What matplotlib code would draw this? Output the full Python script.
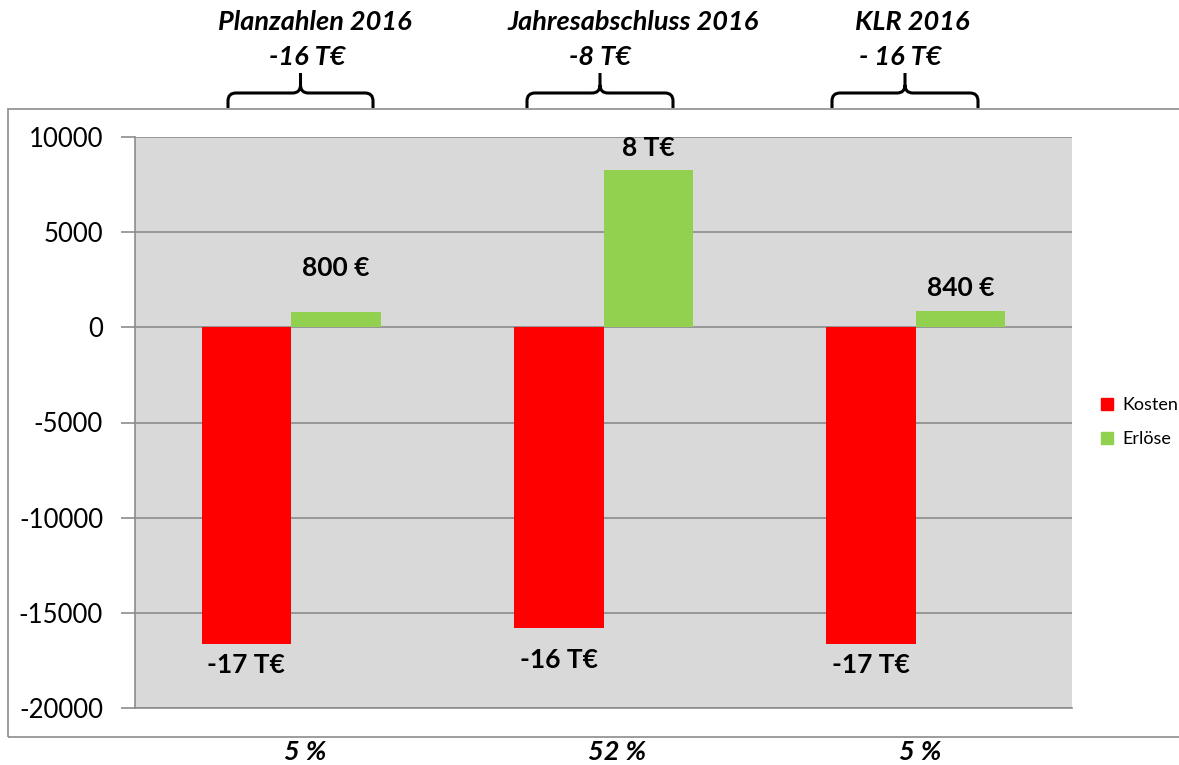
import matplotlib
matplotlib.use('Agg')
import numpy as np
from matplotlib import pyplot as plt
from matplotlib.patches import Rectangle, Patch, PathPatch
from matplotlib.path import Path

plt.rcParams['font.family'] = ['Lato', 'DejaVu Sans']

categories = ['Planzahlen 2016', 'Jahresabschluss 2016', 'KLR 2016']
results = ['-16 T€', '-8 T€', '- 16 T€']
shares = ['5 %', '52 %', '5 %']
kosten = [-16660, -15820, -16660]
erloese = [800, 8250, 840]
kosten_labels = ['-17 T€', '-16 T€', '-17 T€']
erloese_labels = ['800 €', '8 T€', '840 €']

RED = '#ff0000'
GREEN = '#92d050'
W, H = 1179, 765


def fx(px):
    return px / W


def fy(py):
    return 1 - py / H


fig = plt.figure(figsize=(11.79, 7.65), dpi=100)

# outer chart frame
fig.patches.append(Rectangle((fx(8), fy(737)), fx(1200) - fx(8), fy(109) - fy(737),
                             transform=fig.transFigure, fill=False,
                             edgecolor='#8c8c8c', linewidth=1.2))

ax = fig.add_axes([fx(135), fy(708), fx(1072) - fx(135), fy(137) - fy(708)])
ax.set_facecolor('#d9d9d9')

x = np.arange(len(categories))
bw = 0.287
ax.bar(x - bw / 2, kosten, bw, color=RED, label='Kosten', zorder=3)
ax.bar(x + bw / 2, erloese, bw, color=GREEN, label='Erlöse', zorder=3)

ax.set_xlim(-0.5, 2.5)
ax.set_ylim(-20000, 10000)
ax.set_yticks(range(-20000, 10001, 5000))
ax.set_yticklabels([str(v) for v in range(-20000, 10001, 5000)])
ax.set_xticks([])
ax.yaxis.grid(True, color='#8c8c8c', linewidth=1.2, zorder=1)
ax.set_axisbelow(True)
for s in ['top', 'right']:
    ax.spines[s].set_visible(False)
ax.spines['left'].set_color('#8c8c8c')
ax.spines['bottom'].set_color('#8c8c8c')
ax.spines['left'].set_linewidth(1.2)
ax.spines['bottom'].set_linewidth(1.2)
ax.tick_params(axis='y', length=10, width=1.2, color='#8c8c8c', labelsize=18.5, pad=13)

# data labels, pixel offsets from bar end
k_off = [21, 32, 21]
e_off = [44, 22, 23]
for i in range(len(categories)):
    ax.annotate(kosten_labels[i], (x[i] - bw / 2, kosten[i]), xytext=(0, -k_off[i] * 0.72),
                textcoords='offset points', ha='center', va='center',
                fontsize=19, fontweight='bold')
    ax.annotate(erloese_labels[i], (x[i] + bw / 2, erloese[i]),
                xytext=(0, e_off[i] * 0.72),
                textcoords='offset points', ha='center', va='center',
                fontsize=19, fontweight='bold')


def brace(x0, x1, ybot, yline, ytip):
    xm = (x0 + x1) / 2
    r = 8
    verts = [(x0, ybot), (x0, yline + r), (x0, yline), (x0 + r, yline),
             (xm - r, yline), (xm, yline), (xm, yline - r), (xm, ytip),
             (xm, yline - r), (xm, yline), (xm + r, yline),
             (x1 - r, yline), (x1, yline), (x1, yline + r), (x1, ybot)]
    codes = [Path.MOVETO, Path.LINETO, Path.CURVE3, Path.CURVE3,
             Path.LINETO, Path.CURVE3, Path.CURVE3, Path.LINETO,
             Path.MOVETO, Path.CURVE3, Path.CURVE3,
             Path.LINETO, Path.CURVE3, Path.CURVE3, Path.LINETO]
    verts = [(fx(a), fy(b)) for a, b in verts]
    fig.patches.append(PathPatch(Path(verts, codes), transform=fig.transFigure,
                                 fill=False, edgecolor='black', linewidth=2.2))


brace_x = [(228, 373), (527, 673), (832, 978)]
title_x = [315, 633, 912]
result_x = [307, 600, 900]
share_x = [305, 617, 920]
for i in range(len(categories)):
    brace(brace_x[i][0], brace_x[i][1], 108, 93, 73)
    fig.text(fx(title_x[i]), fy(22), categories[i], ha='center', va='center',
             fontsize=19.5, fontweight='bold', fontstyle='italic')
    fig.text(fx(result_x[i]), fy(57), results[i], ha='center', va='center',
             fontsize=19.5, fontweight='bold', fontstyle='italic')
    fig.text(fx(share_x[i]), fy(752), shares[i], ha='center', va='center',
             fontsize=19.5, fontweight='bold', fontstyle='italic')

handles = [Patch(color=RED, label='Kosten'), Patch(color=GREEN, label='Erlöse')]
fig.legend(handles=handles, loc='center left', bbox_to_anchor=(fx(1085), fy(422)),
           frameon=False, fontsize=13, handlelength=0.65, handleheight=0.65,
           handletextpad=0.5, labelspacing=1.0)

fig.savefig('out.png', dpi=100)
